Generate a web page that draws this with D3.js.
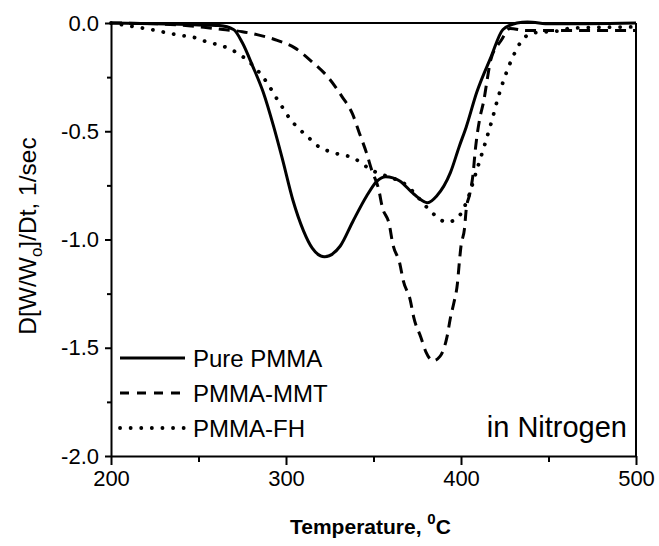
<html>
<script src='https://d3js.org/d3.v7.min.js'></script>
<style>
  body {margin:0; background:white;}
  text {font-family:'Liberation Sans', Arial, sans-serif; fill:black;}
  .curve {fill:none; stroke:black;}
</style>
<body onload='init()'>
<svg width=659 height=546></svg>
<script>
// values
var pureT = [200,255,262,270,275,281,287,293,298,304,310,315,322,331,338,346,352,357,365,373,381,386,394,399,403,409,417,424,432,438,451,500];
var pureV = [0,-0.01,-0.012,-0.03,-0.09,-0.2,-0.32,-0.48,-0.63,-0.82,-0.96,-1.04,-1.08,-1.03,-0.92,-0.8,-0.73,-0.71,-0.73,-0.79,-0.83,-0.8,-0.69,-0.57,-0.48,-0.32,-0.16,-0.03,0,0.005,-0.004,0];

var mmtT = [200,230,253,264,275,284,295,305,315,324,332,338,342,346,349,353,355,359,361,365,367,371,373,377,380,384,388,392,394,396,398,399,400,402,403,405,407,408,409,411,413,415,417,423,428,437,450,500];
var mmtV = [0,-0.005,-0.02,-0.03,-0.04,-0.055,-0.08,-0.115,-0.18,-0.25,-0.34,-0.42,-0.51,-0.6,-0.68,-0.77,-0.85,-0.93,-1.02,-1.11,-1.19,-1.28,-1.36,-1.45,-1.52,-1.56,-1.54,-1.45,-1.36,-1.29,-1.2,-1.11,-1.03,-0.95,-0.86,-0.79,-0.69,-0.6,-0.53,-0.43,-0.36,-0.26,-0.17,-0.08,-0.025,-0.035,-0.035,-0.035];

var fhT = [200,224,238,249,255,261,268,274,279,290,294,298,302,307,313,319,326,332,338,343,349,355,362,369,376,384,392,398,403,409,414,418,421,425,430,434,441,455,464,500];
var fhV = [0,-0.032,-0.055,-0.07,-0.088,-0.1,-0.12,-0.148,-0.18,-0.286,-0.34,-0.39,-0.44,-0.485,-0.53,-0.573,-0.596,-0.61,-0.62,-0.647,-0.68,-0.7,-0.72,-0.75,-0.81,-0.88,-0.92,-0.9,-0.83,-0.68,-0.55,-0.44,-0.35,-0.25,-0.15,-0.09,-0.046,-0.037,-0.023,-0.018];

var seriesNames = ["Pure PMMA", "PMMA-MMT", "PMMA-FH"];
var xTicks = [200, 300, 400, 500];
var xMinor = [250, 350, 450];
var yTicks = [0, -0.5, -1.0, -1.5, -2.0];
var yMinor = [-0.25, -0.75, -1.25, -1.75];

function init() {
var svg = d3.select("svg");
var left = 111, right = 636, top = 23, bottom = 456;

var x = d3.scaleLinear().domain([200, 500]).range([left, right]);
var y = d3.scaleLinear().domain([-2.0, 0]).range([bottom, top]);

var styles = [
  {w: 3, dash: null, cap: "butt"},
  {w: 3, dash: "11,7", cap: "butt"},
  {w: 3.8, dash: "0.1,10.5", cap: "round"}
];

var series = [
  d3.zip(pureT, pureV),
  d3.zip(mmtT, mmtV),
  d3.zip(fhT, fhV)
];

var line = d3.line()
  .x(function(d) {return x(d[0]);})
  .y(function(d) {return y(d[1]);})
  .curve(d3.curveMonotoneX);

svg.append("g").selectAll("path")
  .data(series)
  .enter()
  .append("path")
    .attr("class", "curve")
    .attr("d", line)
    .attr("stroke-width", function(d,i) {return styles[i].w;})
    .attr("stroke-dasharray", function(d,i) {return styles[i].dash;})
    .attr("stroke-linecap", function(d,i) {return styles[i].cap;});

// axes
var xAxis = svg.append("g")
  .attr("transform", "translate(0," + bottom + ")")
  .call(d3.axisBottom(x).tickValues(xTicks).tickSize(9).tickSizeOuter(0).tickPadding(4).tickFormat(d3.format("d")));
svg.append("g")
  .attr("transform", "translate(0," + bottom + ")")
  .call(d3.axisBottom(x).tickValues(xMinor).tickSize(6).tickSizeOuter(0).tickFormat(""))
  .select(".domain").remove();
var yAxis = svg.append("g")
  .attr("transform", "translate(" + left + ",0)")
  .call(d3.axisLeft(y).tickValues(yTicks).tickSize(6).tickSizeOuter(0).tickPadding(6).tickFormat(d3.format(".1f")));
svg.append("g")
  .attr("transform", "translate(" + left + ",0)")
  .call(d3.axisLeft(y).tickValues(yMinor).tickSize(4).tickSizeOuter(0).tickFormat(""))
  .select(".domain").remove();

svg.selectAll(".domain, .tick line").attr("stroke", "black").attr("stroke-width", 2);
xAxis.selectAll("text").attr("font-size", 22).attr("font-family", "'Liberation Sans', Arial, sans-serif").attr("dy", "0.75em");
yAxis.selectAll("text").attr("font-size", 22).attr("font-family", "'Liberation Sans', Arial, sans-serif")
  .text(function(d) {return d3.format(".1f")(d).replace("−", "-");});

// frame top and right
svg.append("line").attr("x1", left).attr("x2", right).attr("y1", top).attr("y2", top)
  .attr("stroke", "black").attr("stroke-width", 2);
svg.append("line").attr("x1", right).attr("x2", right).attr("y1", top).attr("y2", bottom)
  .attr("stroke", "black").attr("stroke-width", 2);

// legend
var legY = [358, 393, 428];
var leg = svg.append("g").selectAll("g")
  .data(seriesNames)
  .enter()
  .append("g")
    .attr("transform", function(d,i) {return "translate(0," + legY[i] + ")";});
leg.append("line")
  .attr("x1", 120).attr("x2", 185)
  .attr("stroke", "black")
  .attr("stroke-width", function(d,i) {return styles[i].w;})
  .attr("stroke-dasharray", function(d,i) {return i == 1 ? "9,8" : styles[i].dash;})
  .attr("stroke-linecap", function(d,i) {return styles[i].cap;});
leg.append("text")
  .attr("x", 193).attr("y", 9)
  .attr("font-size", 24)
  .text(function(d) {return d;});

svg.append("text")
  .attr("x", 627).attr("y", 437)
  .attr("text-anchor", "end")
  .attr("font-size", 29)
  .text("in Nitrogen");

// axis titles
var xt = svg.append("text")
  .attr("x", 290).attr("y", 534)
  .attr("font-size", 21).attr("font-weight", "bold");
xt.append("tspan").text("Temperature, ");
xt.append("tspan").attr("font-size", 15).attr("dy", -10).text("0");
xt.append("tspan").attr("dy", 10).text("C");

var yt = svg.append("text")
  .attr("transform", "translate(36,236) rotate(-90)")
  .attr("text-anchor", "middle")
  .attr("font-size", 24.5);
yt.append("tspan").text("D[W/W");
yt.append("tspan").attr("font-size", 17).attr("dy", 6).text("o");
yt.append("tspan").attr("dy", -6).text("]/Dt, 1/sec");
}
</script>
</body>
</html>
